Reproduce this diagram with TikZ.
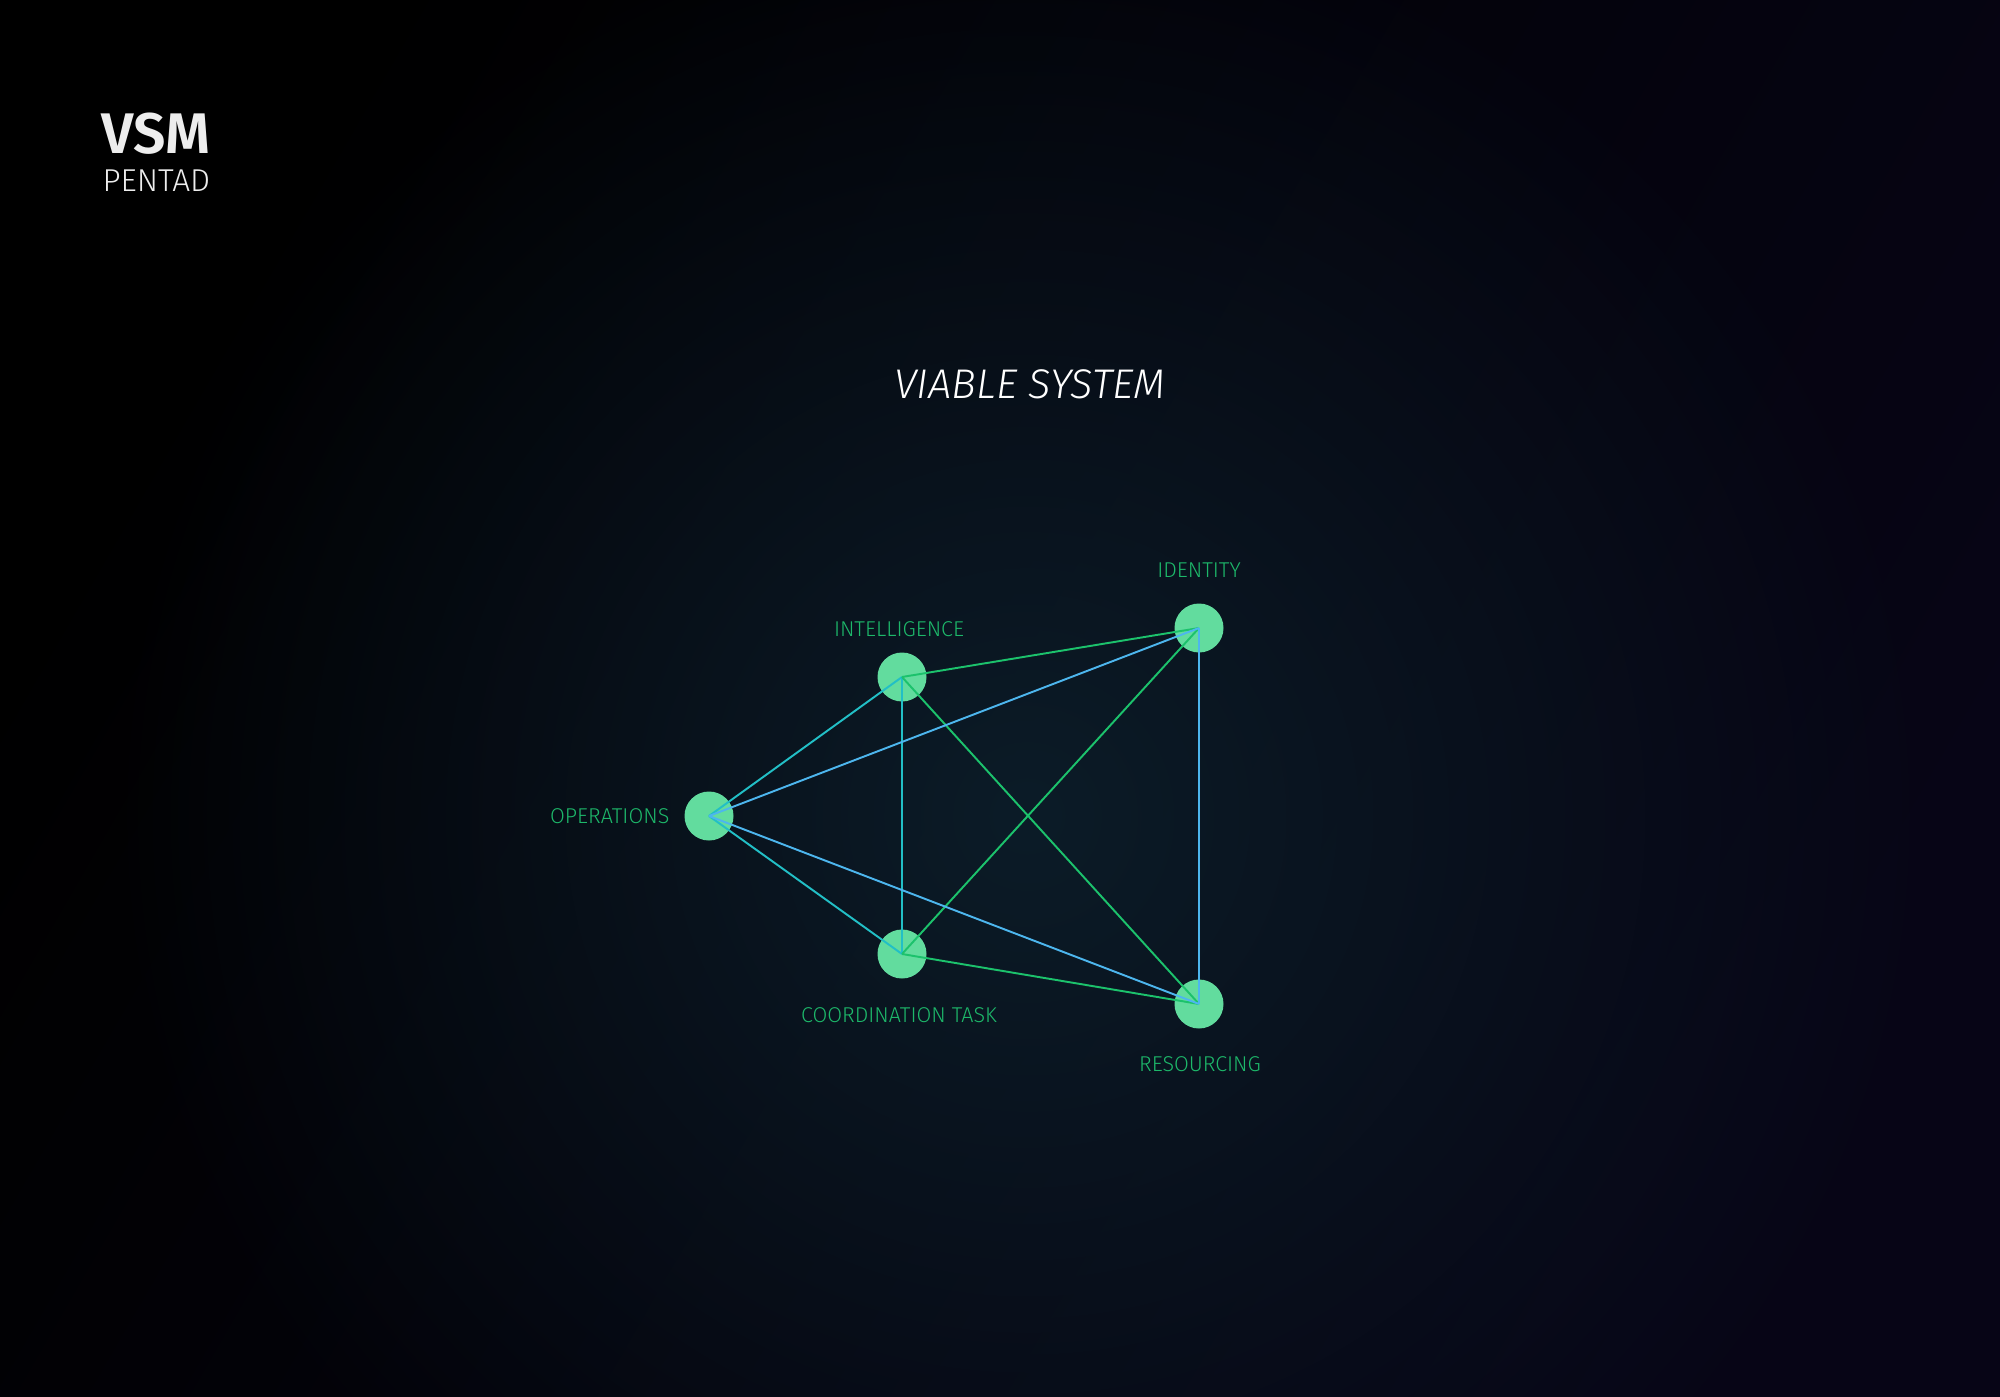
\documentclass[tikz,border=0pt]{standalone}
\usepackage{fontspec}
\setmainfont{Fira Sans Light}
\newfontfamily\boldfont{Fira Sans SemiBold}
\newfontfamily\italicfont{Fira Sans Light Italic}
\usetikzlibrary{fadings}

\definecolor{bgdark}{HTML}{000000}
\definecolor{bgnavy}{HTML}{070516}
\definecolor{glowc}{HTML}{0C1C28}
\definecolor{dotfill}{HTML}{62DC9E}
\definecolor{lblgreen}{HTML}{1DB86A}
\definecolor{edgegreen}{HTML}{1CC26C}
\definecolor{edgeteal}{HTML}{22BFC6}
\definecolor{edgeblue}{HTML}{4DB6EE}
\definecolor{titlegrey}{HTML}{EDEDED}

\tikzfading[name=glowfade, inner color=transparent!0, outer color=transparent!100]

\tikzset{
  dot/.style={circle, fill=dotfill, minimum size=0.49cm, inner sep=0pt},
  lbl/.style={text=lblgreen, inner sep=0pt, font=\fontsize{6.1}{7}\selectfont},
  link/.style={line width=0.55pt}
}

\begin{document}
\begin{tikzpicture}
\useasboundingbox (0,0) rectangle (20,13.96);
\clip (0,0) rectangle (20,13.96);
% background and glow
\fill[left color=bgdark, right color=bgnavy, shading angle=60] (0,0) rectangle (20,13.96);
\fill[glowc, path fading=glowfade] (10.27,5.8) circle (9.2);

\node[anchor=west, inner sep=0pt, text=titlegrey, font=\boldfont\fontsize{16.3}{19}\selectfont] (title) at (1.01,12.62) {VSM};
\node[anchor=west, inner sep=0pt, text=titlegrey, font=\fontsize{9}{11}\selectfont] (subtitle) at (1.02,12.15) {PENTAD};
\node[text=white, font=\italicfont\fontsize{11.8}{14}\selectfont] (system) at (10.30,10.12) {VIABLE SYSTEM};

\node[dot] (intel) at (9.02,7.19) {};
\node[dot] (ident) at (11.99,7.68) {};
\node[dot] (ops) at (7.09,5.80) {};
\node[dot] (coord) at (9.02,4.42) {};
\node[dot] (res) at (11.99,3.92) {};

\node[lbl] (intel-l) at (8.99,7.67) {INTELLIGENCE};
\node[lbl] (ident-l) at (11.99,8.26) {IDENTITY};
\node[lbl, anchor=east] (ops-l) at (6.70,5.80) {OPERATIONS};
\node[lbl] (coord-l) at (8.99,3.81) {COORDINATION TASK};
\node[lbl] (res-l) at (12.00,3.32) {RESOURCING};

\foreach \from/\to in {ops/intel,ops/coord,intel/coord}
\draw[link, edgeteal] (\from.center) -- (\to.center);
\foreach \from/\to in {intel/ident,intel/res,coord/ident,coord/res}
\draw[link, edgegreen] (\from.center) -- (\to.center);
\foreach \from/\to in {ops/ident,ops/res,ident/res}
\draw[link, edgeblue] (\from.center) -- (\to.center);
\end{tikzpicture}
\end{document}
